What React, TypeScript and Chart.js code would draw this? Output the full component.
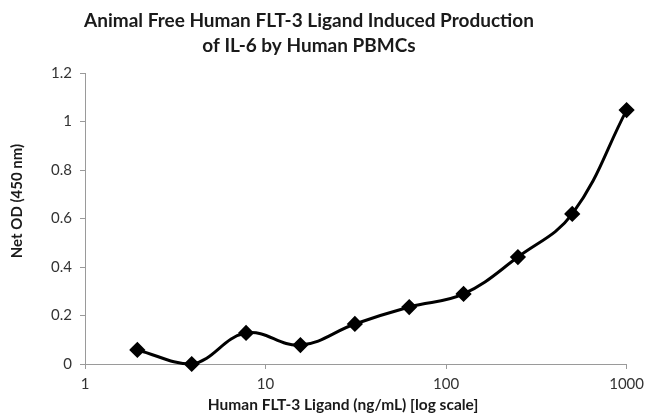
import React, { useEffect, useRef } from "react";
import { Chart, registerables } from "chart.js";

Chart.register(...registerables);

const concentrations = [1.95, 3.9, 7.8, 15.6, 31.25, 62.5, 125, 250, 500, 1000];
const netOD = [0.058, 0.0, 0.128, 0.078, 0.165, 0.235, 0.289, 0.441, 0.619, 1.047];
const xTickValues = [1, 10, 100, 1000];
const titleLines = ["Animal Free Human FLT-3 Ligand Induced Production", "of IL-6 by Human PBMCs"];
const xTitle = "Human FLT-3 Ligand (ng/mL) [log scale]";
const yTitle = "Net OD (450 nm)";

const FONT = "Lato, 'Open Sans', sans-serif";

const textPlugin = {
  id: "customText",
  afterDraw(chart: any) {
    const ctx = chart.ctx;
    ctx.save();
    ctx.fillStyle = "#1a1a1a";
    ctx.textAlign = "center";
    ctx.textBaseline = "middle";
    ctx.font = `bold 19px ${FONT}`;
    ctx.fillText(titleLines[0], 309, 21);
    ctx.fillText(titleLines[1], 309, 46);
    ctx.font = `bold 15.5px ${FONT}`;
    ctx.fillText(xTitle, 343, 405);
    ctx.font = `bold 15px ${FONT}`;
    ctx.translate(17, 201);
    ctx.rotate(-Math.PI / 2);
    ctx.fillText(yTitle, 0, 0);
    ctx.restore();
  },
};

export default function App() {
  const ref = useRef<HTMLCanvasElement>(null);
  useEffect(() => {
    const chart = new Chart(ref.current!, {
      type: "line",
      data: {
        datasets: [
          {
            data: concentrations.map((x, i) => ({ x, y: netOD[i] })),
            borderColor: "#000",
            backgroundColor: "#000",
            borderWidth: 3,
            tension: 0.4,
            pointStyle: "rectRot",
            pointRadius: 6,
            pointBackgroundColor: "#000",
            pointBorderColor: "#000",
            clip: false as any,
          },
        ],
      },
      options: {
        responsive: false,
        animation: false,
        layout: { padding: { left: 0, right: 19, top: 73, bottom: 0 } },
        plugins: { legend: { display: false }, title: { display: false }, tooltip: { enabled: false } },
        scales: {
          x: {
            type: "logarithmic",
            min: 1,
            max: 1000,
            afterBuildTicks: (scale: any) => {
              scale.ticks = xTickValues.map((v) => ({ value: v }));
            },
            afterFit: (scale: any) => {
              scale.height = 54;
            },
            grid: { display: true, drawOnChartArea: false, tickLength: 5, color: "#9a9a9a" },
            border: { display: true, color: "#9a9a9a", width: 1 },
            ticks: {
              autoSkip: false,
              maxRotation: 0,
              padding: 6,
              color: "#333",
              font: { family: FONT, size: 15 },
              callback: (v: any) => String(v),
            },
          },
          y: {
            min: 0,
            max: 1.2,
            afterFit: (scale: any) => {
              scale.width = 85;
            },
            grid: { display: true, drawOnChartArea: false, tickLength: 5, color: "#9a9a9a" },
            border: { display: true, color: "#9a9a9a", width: 1 },
            ticks: {
              stepSize: 0.2,
              padding: 8,
              color: "#333",
              font: { family: FONT, size: 15 },
              callback: (v: any) => String(Number(Number(v).toFixed(1))),
            },
          },
        },
      },
      plugins: [textPlugin],
    });
    return () => chart.destroy();
  }, []);
  return (
    <div style={{ position: "absolute", left: 0, top: 0, width: 650, height: 418, background: "#fff" }}>
      <canvas ref={ref} width={650} height={418} />
    </div>
  );
}
